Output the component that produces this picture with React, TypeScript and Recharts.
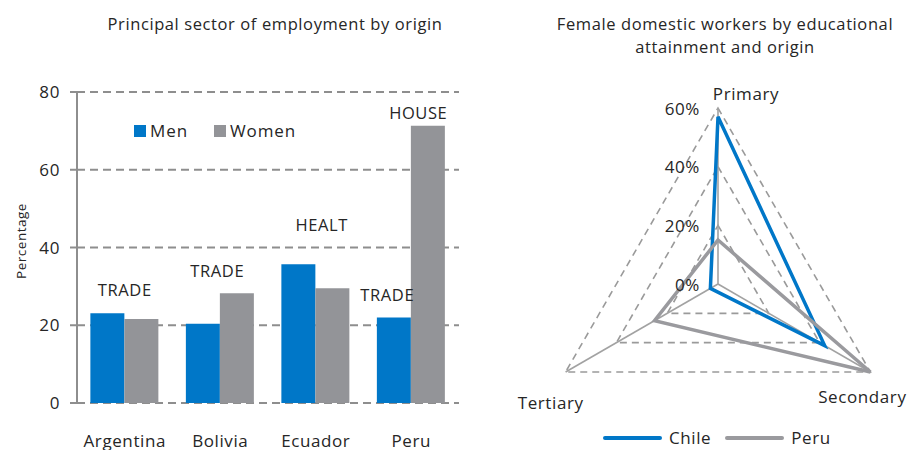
import {
  Bar,
  BarChart,
  CartesianGrid,
  PolarAngleAxis,
  PolarGrid,
  PolarRadiusAxis,
  Radar,
  RadarChart,
  ReferenceDot,
  XAxis,
  YAxis,
} from 'recharts';

const FONT = '"Open Sans", Lato, sans-serif';
const SPACING = 0.6;
const TEXT = '#262626';
const BLUE = '#0077c8';
const GRAY = '#939498';
const PERU_LINE = '#9a9a9e';
const GRID = '#8e8e8e';

// Left chart: principal sector of employment
const countries = ['Argentina', 'Bolivia', 'Ecuador', 'Peru'];
const menShare = [23.1, 20.4, 35.7, 22.0];
const womenShare = [21.6, 28.2, 29.5, 71.3];
const yTicks = [0, 20, 40, 60, 80];

const sectorCountry = ['Argentina', 'Bolivia', 'Ecuador', 'Peru', 'Peru'];
const sectorText = ['TRADE', 'TRADE', 'HEALT', 'TRADE', 'HOUSE'];
const sectorY = [29.1, 34.0, 45.9, 27.8, 74.6];
// horizontal nudge of each annotation from its category centre (px)
const sectorDx = [0, -3, 6, -24, 7];

// Right chart: educational attainment
const levels = ['Primary', 'Secondary', 'Tertiary'];
const chileShare = [57, 42, 3];
const peruShare = [15, 60, 25];

const barRows = countries.map((country, i) => ({
  country,
  Men: menShare[i],
  Women: womenShare[i],
}));

const radarRows = levels.map((level, i) => ({
  level,
  Chile: chileShare[i],
  Peru: peruShare[i],
}));

const ANGLE_LABEL_OFFSET: Record<string, [number, number]> = {
  Primary: [28, -7],
  Secondary: [-15, 20],
  Tertiary: [-8, 26],
};

const textStyle = { fontFamily: FONT, letterSpacing: SPACING };

function AngleTick(props: any) {
  const { x, y, payload } = props;
  const [dx, dy] = ANGLE_LABEL_OFFSET[payload.value] ?? [0, 0];
  return (
    <text
      x={x + dx}
      y={y + dy}
      textAnchor="middle"
      dominantBaseline="central"
      fill={TEXT}
      fontSize={17}
      style={textStyle}
    >
      {payload.value}
    </text>
  );
}

function RadiusTick(props: any) {
  const { x, y, payload } = props;
  return (
    <text
      x={x - 18}
      y={y}
      textAnchor="end"
      dominantBaseline="central"
      fill={TEXT}
      fontSize={17}
      style={textStyle}
    >
      {payload.value}%
    </text>
  );
}

function SectorLabel(props: any) {
  const { cx, cy, text, dx } = props;
  return (
    <text
      x={cx + dx}
      y={cy}
      textAnchor="middle"
      dominantBaseline="central"
      fill={TEXT}
      fontSize={16.5}
      style={textStyle}
    >
      {text}
    </text>
  );
}

function BarLegend() {
  const item = (color: string, label: string, gap: number) => (
    <span style={{ display: 'inline-flex', alignItems: 'center', marginRight: gap }}>
      <span style={{ width: 12, height: 12, background: color, marginRight: 4 }} />
      <span>{label}</span>
    </span>
  );
  return (
    <div
      style={{
        position: 'absolute',
        left: 134,
        top: 119,
        fontFamily: FONT,
        fontSize: 17,
        letterSpacing: 0.9,
        color: TEXT,
        display: 'flex',
      }}
    >
      {item(BLUE, 'Men', 26)}
      {item(GRAY, 'Women', 0)}
    </div>
  );
}

function RadarLegend() {
  const item = (color: string, label: string, gap: number) => (
    <span style={{ display: 'inline-flex', alignItems: 'center', marginRight: gap }}>
      <span style={{ width: 59, height: 4, borderRadius: 2, background: color, marginRight: 7 }} />
      <span>{label}</span>
    </span>
  );
  return (
    <div
      style={{
        position: 'absolute',
        left: 603,
        top: 426,
        fontFamily: FONT,
        fontSize: 17,
        letterSpacing: SPACING,
        color: TEXT,
        display: 'flex',
      }}
    >
      {item(BLUE, 'Chile', 14)}
      {item(PERU_LINE, 'Peru', 0)}
    </div>
  );
}

export default function App() {
  return (
    <div
      style={{
        position: 'absolute',
        left: 0,
        top: 0,
        width: 907,
        height: 450,
        overflow: 'hidden',
        background: '#fff',
      }}
    >
      <div
        style={{
          position: 'absolute',
          left: 75,
          top: 12,
          width: 400,
          textAlign: 'center',
          fontFamily: FONT,
          fontSize: 16.5,
          letterSpacing: SPACING,
          color: TEXT,
        }}
      >
        Principal sector of employment by origin
      </div>
      <div
        style={{
          position: 'absolute',
          left: -29,
          top: 232,
          width: 100,
          textAlign: 'center',
          transform: 'rotate(-90deg)',
          fontFamily: FONT,
          fontSize: 13.5,
          letterSpacing: 0.5,
          color: TEXT,
          lineHeight: '18px',
        }}
      >
        Percentage
      </div>
      <div style={{ position: 'absolute', left: 0, top: 0 }}>
        <BarChart
          width={470}
          height={450}
          data={barRows}
          margin={{ top: 92, right: 11, left: 17, bottom: 0 }}
          barCategoryGap="14%"
          barGap={0}
        >
          <CartesianGrid vertical={false} stroke={GRID} strokeDasharray="8 5" strokeWidth={2} />
          <XAxis
            xAxisId="edges"
            type="number"
            domain={[0, 4]}
            ticks={[0, 1, 2, 3, 4]}
            allowDataOverflow
            height={0}
            tickFormatter={() => ''}
            tickSize={7}
            axisLine={{ stroke: GRID, strokeWidth: 2 }}
            tickLine={{ stroke: GRID, strokeWidth: 2 }}
          />
          <XAxis
            xAxisId="cat"
            dataKey="country"
            height={47}
            axisLine={false}
            tickLine={false}
            tickSize={0}
            tickMargin={32}
            tick={{ fill: TEXT, fontSize: 17, style: textStyle }}
          />
          <YAxis
            domain={[0, 80]}
            ticks={yTicks}
            width={60}
            tickSize={7}
            tickMargin={10}
            axisLine={{ stroke: GRID, strokeWidth: 2 }}
            tickLine={{ stroke: GRID, strokeWidth: 2 }}
            tick={{ fill: TEXT, fontSize: 17, style: textStyle }}
          />
          <Bar xAxisId="cat" dataKey="Men" fill={BLUE} isAnimationActive={false} />
          <Bar xAxisId="cat" dataKey="Women" fill={GRAY} isAnimationActive={false} />
          {sectorText.map((text, i) => (
            <ReferenceDot
              key={`${text}-${i}`}
              xAxisId="cat"
              x={sectorCountry[i]}
              y={sectorY[i]}
              r={0}
              shape={(p: any) => <SectorLabel {...p} text={text} dx={sectorDx[i]} />}
            />
          ))}
        </BarChart>
      </div>
      <BarLegend />

      <div
        style={{
          position: 'absolute',
          left: 525,
          top: 12,
          width: 400,
          textAlign: 'center',
          fontFamily: FONT,
          fontSize: 16.5,
          letterSpacing: SPACING,
          lineHeight: '23px',
          color: TEXT,
        }}
      >
        Female domestic workers by educational
        <br />
        attainment and origin
      </div>
      <div style={{ position: 'absolute', left: 470, top: 0 }}>
        <RadarChart
          width={437}
          height={450}
          data={radarRows}
          cx={248}
          cy={284}
          outerRadius={176}
        >
          <PolarGrid
            gridType="polygon"
            radialLines={false}
            stroke="#9a9a9a"
            strokeWidth={1.6}
            strokeDasharray="7 5"
          />
          <PolarGrid gridType="polygon" polarRadius={[0]} stroke="#a2a2a2" strokeWidth={1.6} />
          <PolarAngleAxis dataKey="level" tick={AngleTick} tickLine={false} axisLine={false} />
          <PolarRadiusAxis
            angle={90}
            domain={[0, 60]}
            tickCount={4}
            axisLine={false}
            tick={RadiusTick}
          />
          <Radar
            dataKey="Chile"
            stroke={BLUE}
            strokeWidth={3.5}
            fill="none"
            fillOpacity={0}
            dot={false}
            isAnimationActive={false}
          />
          <Radar
            dataKey="Peru"
            stroke={PERU_LINE}
            strokeWidth={3.5}
            fill="none"
            fillOpacity={0}
            dot={false}
            isAnimationActive={false}
          />
        </RadarChart>
      </div>
      <RadarLegend />
    </div>
  );
}
